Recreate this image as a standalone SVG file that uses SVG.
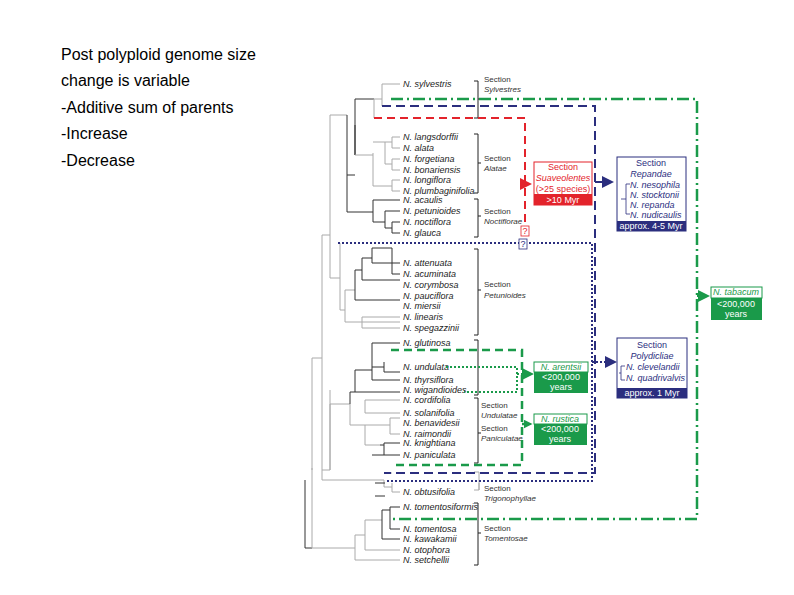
<svg xmlns="http://www.w3.org/2000/svg" width="794" height="595" viewBox="0 0 794 595">
<style>
.t{font-family:"Liberation Sans",Arial,sans-serif;font-size:16px;fill:#000}
.sp{font-family:"Liberation Sans",Arial,sans-serif;font-size:9px;font-style:italic;fill:#222}
.sc{font-family:"Liberation Sans",Arial,sans-serif;font-size:8px;fill:#333}
.sci{font-family:"Liberation Sans",Arial,sans-serif;font-size:8px;font-style:italic;fill:#333}
.bx{font-family:"Liberation Sans",Arial,sans-serif;font-size:9px;text-anchor:middle}
.tr{fill:none;stroke:#333;stroke-width:1}
.tg{fill:none;stroke:#aaa;stroke-width:1}
.br{fill:none;stroke:#222;stroke-width:1}
.red{fill:none;stroke:#e3232b;stroke-width:2;stroke-dasharray:8,5}
.nvd{fill:none;stroke:#2b2e7e;stroke-width:2;stroke-dasharray:9,5}
.nvo{fill:none;stroke:#2b2e7e;stroke-width:2;stroke-dasharray:2,2}
.grd{fill:none;stroke:#1a9a4a;stroke-width:2.5;stroke-dasharray:12,4,2,4}
.grdash{fill:none;stroke:#1a9a4a;stroke-width:2.5;stroke-dasharray:8,5}
.gro{fill:none;stroke:#1a9a4a;stroke-width:2;stroke-dasharray:2,2}
</style>
<defs>
<marker id="ar" markerWidth="6" markerHeight="6" refX="5" refY="3" orient="auto"><path d="M0,0L6,3L0,6z" fill="#e3232b"/></marker>
<marker id="an" markerWidth="6" markerHeight="6" refX="5" refY="3" orient="auto"><path d="M0,0L6,3L0,6z" fill="#2b2e7e"/></marker>
<marker id="ag" markerWidth="6" markerHeight="6" refX="5" refY="3" orient="auto"><path d="M0,0L6,3L0,6z" fill="#1a9a4a"/></marker>
</defs>
<rect width="794" height="595" fill="#fff"/>
<g id="intro">
<text class="t" x="61" y="60">Post polyploid genome size</text>
<text class="t" x="61" y="86">change is variable</text>
<text class="t" x="61" y="113">-Additive sum of parents</text>
<text class="t" x="61" y="139">-Increase</text>
<text class="t" x="61" y="166">-Decrease</text>
</g>
<g id="tree">
<path class="tr" d="M305,480V548H312"/>
<path class="tg" d="M312,548V358H322M312,468V470"/>
<path class="tg" d="M322,358V235H330M322,358V480H384"/>
<path class="tg" d="M330,235V115H347M330,235V278H340"/>
<path class="tr" d="M347,115V175H355M347,175V212H355"/>
<path class="tr" d="M355,155V99H374M355,155V125"/>
<path class="tg" d="M374,99V118M382,95V106M374,99H382M382,84V95M382,84H400"/>
<path class="tg" d="M355,155H373M373,153V186"/>
<path class="tg" d="M373,142H385M385,142V164M385,142H392M392,137V148M392,137H400M392,148H400M385,164H392M392,159V170M392,159H400M392,170H400M373,186H392M392,180V191M392,180H400M392,191H400"/>
<path class="tr" d="M355,212H373M373,200V222M373,200H400M373,222H385M385,211V228M385,211H400M385,228H392M392,222V233M392,222H400M392,233H400"/>
<path class="tg" d="M340,278V243H338M340,278V310H345"/>
<path class="tg" d="M345,310V290H355M345,310V322H400M362,317H400M362,317V328H400"/>
<path class="tr" d="M355,290V270H362M355,290V300H400"/>
<path class="tr" d="M362,270V258H372M362,270V280H400M372,258V263H400M372,258V248H392M392,248V274M392,274H400"/>
<path class="tg" d="M322,470H330"/>
<path class="tg" d="M330,470V404H350M330,470V390"/>
<path class="tr" d="M350,404V392H355M355,392V370H372M355,392H400M372,370V343H400M372,370V380H400M372,367H384M384,362V372H400"/>
<path class="tg" d="M350,404V425H365M365,400V413H400M365,400H400M365,425H390M390,418V434H400M390,418H400M365,425V445H380"/>
<path class="tr" d="M380,445H384M384,443V455M384,443H400M384,455H400M372,455H384"/>
<path class="tg" d="M384,480V487H392M385,473H392M392,483V492H400"/>
<path class="tr" d="M375,483H385M375,496H385"/>
<path class="tg" d="M312,548H355M355,548V535H365M355,548V560H400M365,535V520H382M365,535V550H400"/>
<path class="tr" d="M382,520V510H390M382,520V539H400M390,510V507H400M390,510V529H400"/>
</g>
<g id="labels">
<text class="sp" x="403" y="87">N. sylvestris</text>
<text class="sp" x="403" y="140">N. langsdorffii</text>
<text class="sp" x="403" y="151">N. alata</text>
<text class="sp" x="403" y="162">N. forgetiana</text>
<text class="sp" x="403" y="173">N. bonariensis</text>
<text class="sp" x="403" y="183">N. longiflora</text>
<text class="sp" x="403" y="194">N. plumbaginifolia</text>
<text class="sp" x="403" y="203">N. acaulis</text>
<text class="sp" x="403" y="214">N. petunioides</text>
<text class="sp" x="403" y="225">N. noctiflora</text>
<text class="sp" x="403" y="236">N. glauca</text>
<text class="sp" x="403" y="266">N. attenuata</text>
<text class="sp" x="403" y="277">N. acuminata</text>
<text class="sp" x="403" y="288">N. corymbosa</text>
<text class="sp" x="403" y="299">N. pauciflora</text>
<text class="sp" x="403" y="309">N. miersii</text>
<text class="sp" x="403" y="320">N. linearis</text>
<text class="sp" x="403" y="331">N. spegazzinii</text>
<text class="sp" x="403" y="346">N. glutinosa</text>
<text class="sp" x="403" y="370">N. undulata</text>
<text class="sp" x="403" y="383">N. thyrsiflora</text>
<text class="sp" x="403" y="393">N. wigandioides</text>
<text class="sp" x="403" y="403">N. cordifolia</text>
<text class="sp" x="403" y="416">N. solanifolia</text>
<text class="sp" x="403" y="426">N. benavidesii</text>
<text class="sp" x="403" y="437">N. raimondii</text>
<text class="sp" x="403" y="446">N. knightiana</text>
<text class="sp" x="403" y="458">N. paniculata</text>
<text class="sp" x="403" y="495">N. obtusifolia</text>
<text class="sp" x="403" y="510">N. tomentosiformis</text>
<text class="sp" x="403" y="532">N. tomentosa</text>
<text class="sp" x="403" y="542">N. kawakamii</text>
<text class="sp" x="403" y="553">N. otophora</text>
<text class="sp" x="403" y="563">N. setchellii</text>
</g>
<g id="sections">
<path class="br" d="M474,81H478V118H474M478,99H481"/>
<path class="br" d="M474,134H478V193H474M478,163H481"/>
<path class="br" d="M474,199H478V237H474M478,216H481"/>
<path class="br" d="M474,249H478V335H474M478,290H481"/>
<path class="br" d="M474,340H478V395H474"/>
<path class="br" d="M474,398H478V463H474M478,433H481"/>
<path class="tg" d="M474,472H479V490H474M479,490V483"/>
<path class="br" d="M474,503H478V565H474M478,533H481"/>
<text class="sc" x="484" y="82">Section</text><text class="sci" x="484" y="92">Sylvestres</text>
<text class="sc" x="484" y="161">Section</text><text class="sci" x="484" y="171">Alatae</text>
<text class="sc" x="484" y="214">Section</text><text class="sci" x="484" y="224">Noctiflorae</text>
<text class="sc" x="484" y="287">Section</text><text class="sci" x="484" y="298">Petunioides</text>
<text class="sc" x="481" y="408">Section</text><text class="sci" x="481" y="418">Undulatae</text>
<text class="sc" x="481" y="431">Section</text><text class="sci" x="481" y="441">Paniculatae</text>
<text class="sc" x="484" y="491">Section</text><text class="sci" x="484" y="501">Trigonophyllae</text>
<text class="sc" x="484" y="531">Section</text><text class="sci" x="484" y="541">Tomentosae</text>
</g>
<g id="connectors">
<path class="grd" d="M391,99H697V519H391"/>
<path class="gro" d="M697,296H708" marker-end="url(#ag)"/>
<path class="nvd" d="M382,106H595V473H384"/>
<path class="nvd" d="M595,182H603"/>
<path class="nvo" d="M603,182H612" marker-end="url(#an)"/>
<path class="red" d="M374,118H525V225"/>
<path class="red" d="M525,184H530" marker-end="url(#ar)" stroke-dasharray="none"/>
<path class="nvo" d="M338,243H519M529,243H592V481H386"/>
<path class="nvo" d="M592,362H615" marker-end="url(#an)"/>
<path class="grdash" d="M391,350H522V465H391"/>
<path class="gro" d="M446,367H517V392H464M517,374H532" marker-end="url(#ag)"/>
<path class="grdash" d="M522,424H527" stroke-dasharray="none"/>
<path d="M526,424H531" stroke="#1a9a4a" stroke-width="1.5" marker-end="url(#ag)"/>
<rect x="521" y="226" width="8" height="10" fill="#fff" stroke="#e3232b" stroke-width="0.8"/>
<text x="525" y="234" class="bx" font-size="8" fill="#e3232b">?</text>
<rect x="519" y="239" width="8" height="10" fill="#fff" stroke="#2b2e7e" stroke-width="0.8"/>
<text x="523" y="247" class="bx" font-size="8" fill="#2b2e7e">?</text>
</g>
<g id="suaveolentes">
<rect x="534" y="162" width="58" height="43" fill="#fff" stroke="#e3232b"/>
<rect x="534" y="194" width="58" height="11" fill="#e3232b"/>
<text class="bx" x="563" y="170" fill="#e3232b">Section</text>
<text class="bx" x="563" y="181" fill="#e3232b" font-style="italic">Suaveolentes</text>
<text class="bx" x="563" y="192" fill="#e3232b">(&gt;25 species)</text>
<text class="bx" x="563" y="203" fill="#fff">&gt;10 Myr</text>
</g>
<g id="repandae">
<rect x="617" y="157" width="69" height="74" fill="#fff" stroke="#2b2e7e"/>
<rect x="617" y="221" width="69" height="10" fill="#2b2e7e"/>
<text class="bx" x="651" y="166" fill="#2b2e7e">Section</text>
<text class="bx" x="651" y="177" fill="#2b2e7e" font-style="italic">Repandae</text>
<path d="M630,184H626V214H630M621,199H626" fill="none" stroke="#2b2e7e" stroke-width="0.8"/>
<text class="sp" x="630" y="188" style="fill:#2b2e7e">N. nesophila</text>
<text class="sp" x="630" y="198" style="fill:#2b2e7e">N. stocktonii</text>
<text class="sp" x="630" y="208" style="fill:#2b2e7e">N. repanda</text>
<text class="sp" x="630" y="218" style="fill:#2b2e7e">N. nudicaulis</text>
<text class="bx" x="651" y="229" fill="#fff">approx. 4-5 Myr</text>
</g>
<g id="polydicliae">
<rect x="617" y="338" width="70" height="60" fill="#fff" stroke="#2b2e7e"/>
<rect x="617" y="388" width="70" height="10" fill="#2b2e7e"/>
<text class="bx" x="652" y="348" fill="#2b2e7e">Section</text>
<text class="bx" x="652" y="359" fill="#2b2e7e" font-style="italic">Polydicliae</text>
<path d="M625,366H621V380H625M619,373H621" fill="none" stroke="#2b2e7e" stroke-width="0.8"/>
<text class="sp" x="626" y="370" style="fill:#2b2e7e">N. clevelandii</text>
<text class="sp" x="626" y="381" style="fill:#2b2e7e">N. quadrivalvis</text>
<text class="bx" x="652" y="396" fill="#fff">approx. 1 Myr</text>
</g>
<g id="tabacum">
<rect x="711" y="287" width="51" height="33" fill="#1a9a4a"/>
<rect x="711" y="287" width="51" height="11" fill="#fff" stroke="#1a9a4a"/>
<text class="bx" x="736" y="295" fill="#1a9a4a" font-style="italic">N. tabacum</text>
<text class="bx" x="736" y="307" fill="#fff">&lt;200,000</text>
<text class="bx" x="736" y="317" fill="#fff">years</text>
</g>
<g id="arenaria">
<rect x="534" y="362" width="54" height="31" fill="#1a9a4a"/>
<rect x="534" y="362" width="54" height="10" fill="#fff" stroke="#1a9a4a"/>
<text class="bx" x="561" y="370" fill="#1a9a4a" font-style="italic">N. arentsii</text>
<text class="bx" x="561" y="380" fill="#fff">&lt;200,000</text>
<text class="bx" x="561" y="390" fill="#fff">years</text>
</g>
<g id="rustica">
<rect x="534" y="414" width="53" height="31" fill="#1a9a4a"/>
<rect x="534" y="414" width="53" height="10" fill="#fff" stroke="#1a9a4a"/>
<text class="bx" x="560" y="422" fill="#1a9a4a" font-style="italic">N. rustica</text>
<text class="bx" x="560" y="432" fill="#fff">&lt;200,000</text>
<text class="bx" x="560" y="442" fill="#fff">years</text>
</g>
</svg>
